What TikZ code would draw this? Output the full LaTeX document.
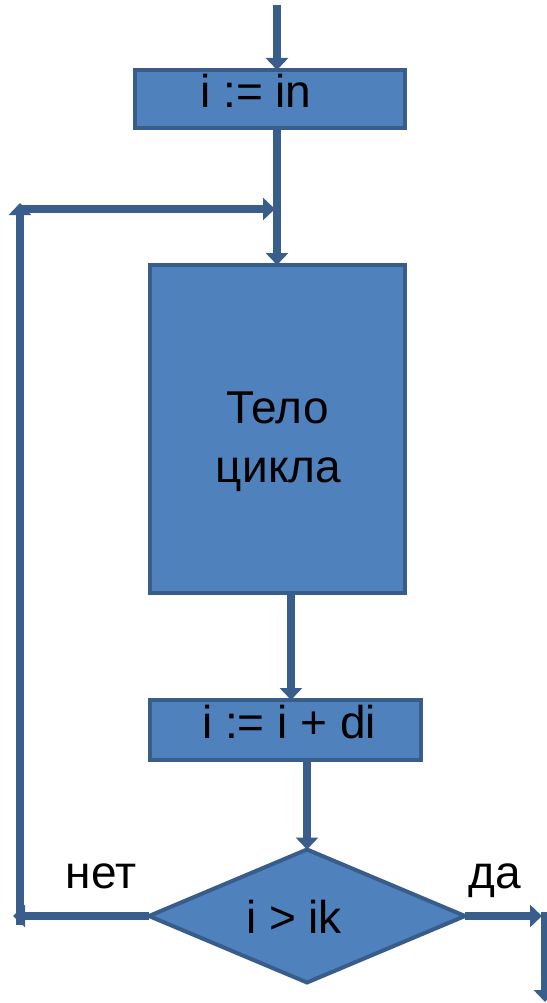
\documentclass[tikz,border=0pt]{standalone}
\usepackage{fontspec}
\setmainfont{Liberation Sans}
\usetikzlibrary{arrows.meta,shapes.geometric}
\definecolor{boxfill}{HTML}{4F81BD}
\definecolor{boxline}{HTML}{385D8A}
\definecolor{conn}{HTML}{3A5E8B}
\tikzset{
  blk/.style={draw=boxline, fill=boxfill, line width=4pt, inner sep=0pt, outer sep=0pt, rectangle},
  dec/.style={draw=boxline, fill=boxfill, line width=4pt, inner sep=0pt, outer sep=0pt, diamond, aspect=2.38},
  txt/.style={anchor=base, inner sep=0pt, font=\fontsize{46}{50}\selectfont, text=black},
  lnk/.style={draw=conn, line width=7.5pt},
  arr/.style={lnk, -{Triangle[width=22pt,length=12pt]}},
}
\begin{document}
\begin{tikzpicture}[x=1pt,y=-1pt]
\useasboundingbox (0,0) rectangle (546,1003);
% shapes
\node[blk, minimum width=270pt, minimum height=58pt] (b1) at (270,99) {};
\node[blk, minimum width=255pt, minimum height=328pt] (b2) at (277.5,429) {};
\node[blk, minimum width=271pt, minimum height=60pt] (b3) at (285.5,730) {};
\node[dec, minimum width=316pt, minimum height=133pt] (d) at (307,916) {};
% texts
\node[txt] (t1) at (256,108) {i := in};
\node[txt] (t2a) at (277.5,423) {Тело};
\node[txt] (t2b) at (278.5,482) {цикла};
\node[txt] (t3) at (289,738) {i := i + di};
\node[txt] (t4) at (294,933) {i > ik};
\node[txt] (no) at (101,888) {нет};
\node[txt] (yes) at (495,888) {да};
% helper coordinates
\coordinate (top) at (277,5);
\coordinate (x2) at (291,0);
\coordinate (lb) at (20,925);
\coordinate (lt) at (20,203);
\coordinate (lh) at (20,209);
\coordinate (lhe) at (275,209);
\coordinate (la) at (13,916);
\coordinate (ra) at (542,916);
\coordinate (rt) at (545,912);
\coordinate (rb) at (545,1002);
% connectors
\draw[arr] (top) -- (top |- b1.north);
\draw[arr] (top |- b1.south) -- (top |- b2.north);
\draw[arr] (x2 |- b2.south) -- (x2 |- b3.north);
\draw[arr] (d.north |- b3.south) -- (d.north);
\draw[arr] (d.west) -- (la);
\draw[arr] (lb) -- (lt);
\draw[arr] (lh) -- (lhe);
\draw[arr] (d.east) -- (ra);
\draw[arr] (rt) -- (rb);
\end{tikzpicture}
\end{document}
